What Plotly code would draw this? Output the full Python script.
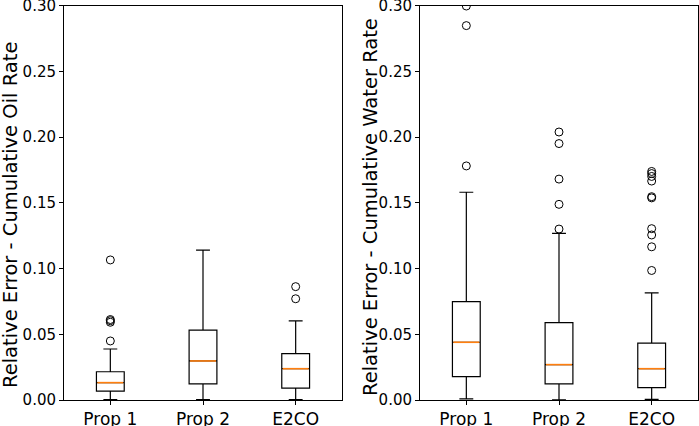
import plotly.graph_objects as go
from plotly.subplots import make_subplots

categories = ["Prop 1", "Prop 2", "E2CO"]
positions = [1, 2, 3]

# oil rate relative error (left panel)
oil_q1 = [0.0068, 0.0122, 0.0091]
oil_median = [0.0132, 0.0297, 0.0238]
oil_q3 = [0.0215, 0.0532, 0.0352]
oil_low = [0.0003, 0.0003, 0.0003]
oil_high = [0.0388, 0.1140, 0.0601]
oil_outliers = [
    [0.0449, 0.0591, 0.0603, 0.0612, 0.1065],
    [],
    [0.0770, 0.0862],
]

# water rate relative error (right panel)
water_q1 = [0.0177, 0.0122, 0.0094]
water_median = [0.0439, 0.0269, 0.0238]
water_q3 = [0.0748, 0.0588, 0.0433]
water_low = [0.0008, 0.0002, 0.0005]
water_high = [0.1580, 0.1267, 0.0814]
water_outliers = [
    [0.1780, 0.2847, 0.2996],
    [0.1300, 0.1488, 0.1680, 0.1950, 0.2038],
    [0.0985, 0.1165, 0.1255, 0.1303, 0.1537, 0.1546, 0.1665, 0.1700, 0.1722, 0.1738],
]

y_ticks = [0.0, 0.05, 0.10, 0.15, 0.20, 0.25, 0.30]
box_width = 0.3

fig = make_subplots(rows=1, cols=2)


def add_panel(col, q1, med, q3, low, high, outliers):
    fig.add_trace(go.Box(x=positions, q1=q1, median=med, q3=q3,
                         lowerfence=low, upperfence=high,
                         width=box_width, whiskerwidth=0.5,
                         fillcolor="white", line=dict(color="black", width=1.2),
                         boxpoints=False, hoverinfo="skip"), row=1, col=col)
    # orange median lines on top of the black ones
    mx, my = [], []
    for p, m in zip(positions, med):
        mx += [p - box_width / 2 + 0.01, p + box_width / 2 - 0.01, None]
        my += [m, m, None]
    fig.add_trace(go.Scatter(x=mx, y=my, mode="lines",
                             line=dict(color="#ff7f0e", width=1.6),
                             hoverinfo="skip"), row=1, col=col)
    ox, oy = [], []
    for p, pts in zip(positions, outliers):
        ox += [p] * len(pts)
        oy += pts
    fig.add_trace(go.Scatter(x=ox, y=oy, mode="markers",
                             marker=dict(symbol="circle-open", size=8, color="black",
                                         line=dict(width=1)),
                             hoverinfo="skip"), row=1, col=col)


add_panel(1, oil_q1, oil_median, oil_q3, oil_low, oil_high, oil_outliers)
add_panel(2, water_q1, water_median, water_q3, water_low, water_high, water_outliers)

fig.update_xaxes(range=[0.5, 3.5], tickvals=positions, ticktext=categories,
                 showline=True, mirror=True, linecolor="black", linewidth=1,
                 ticks="outside", ticklen=4, tickcolor="black", showgrid=False,
                 zeroline=False, automargin=False, ticklabeloverflow="allow",
                 tickfont=dict(family="DejaVu Sans", size=17, color="black"))
fig.update_yaxes(range=[0, 0.30], tickvals=y_ticks, tickformat=".2f",
                 showline=True, mirror=True, linecolor="black", linewidth=1,
                 ticks="outside", ticklen=4, tickcolor="black", showgrid=False,
                 zeroline=False, automargin=False, ticklabeloverflow="allow",
                 tickfont=dict(family="DejaVu Sans", size=15, color="black"))
fig.update_layout(xaxis=dict(domain=[64 / 699, 342 / 699]),
                  xaxis2=dict(domain=[420 / 699, 698 / 699]),
                  yaxis=dict(domain=[26 / 426, 420.5 / 426]),
                  yaxis2=dict(domain=[26 / 426, 420.5 / 426]))

fig.add_annotation(text="Relative Error - Cumulative Oil Rate", textangle=-90,
                   xref="paper", yref="paper", x=10 / 699, y=(426 - 215) / 426,
                   xanchor="center", yanchor="middle", showarrow=False,
                   font=dict(family="DejaVu Sans", size=19.5, color="black"))
fig.add_annotation(text="Relative Error - Cumulative Water Rate", textangle=-90,
                   xref="paper", yref="paper", x=370 / 699, y=(426 - 207) / 426,
                   xanchor="center", yanchor="middle", showarrow=False,
                   font=dict(family="DejaVu Sans", size=19.5, color="black"))

fig.update_layout(width=699, height=426, showlegend=False,
                  margin=dict(l=0, r=0, t=0, b=0),
                  plot_bgcolor="white", paper_bgcolor="white")

# page body has a default 8px margin; drop it so the figure sits at 0,0
fig.write_html("out.html", config={"displayModeBar": False},
               post_script="document.body.style.margin = '0';")
